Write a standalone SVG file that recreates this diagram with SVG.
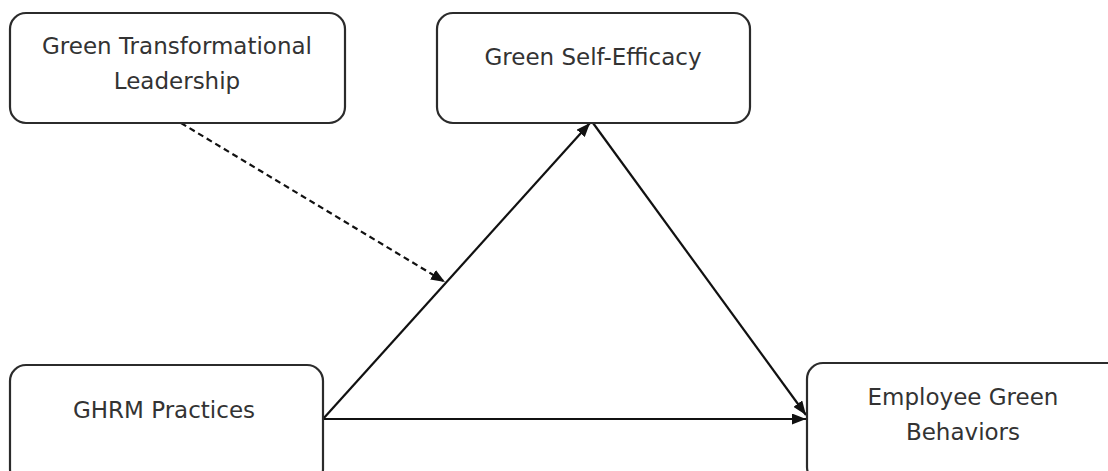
<svg xmlns="http://www.w3.org/2000/svg" width="1108" height="471" viewBox="0 0 1108 471">
<style>
.box{fill:#fff;stroke:#2b2b2b;stroke-width:2.2}
.lbl{font-family:"DejaVu Sans",sans-serif;font-size:23px;fill:#333;text-anchor:middle}
.edge{stroke:#111;stroke-width:2.2;fill:none}
.dash{stroke-dasharray:6 4}
</style>
<defs>
<marker id="arr" viewBox="0 0 14 11" refX="14" refY="5.5" markerWidth="14" markerHeight="11" markerUnits="userSpaceOnUse" orient="auto">
<path d="M0,0 L14,5.5 L0,11 Z" fill="#111"/>
</marker>
</defs>
<rect width="1108" height="471" fill="#fff"/>
<g id="connectors">
<path class="edge dash" d="M181,123 L445,282" marker-end="url(#arr)"/>
<path class="edge" d="M323,419 L590,123" marker-end="url(#arr)"/>
<path class="edge" d="M593,123 L806,415" marker-end="url(#arr)"/>
<path class="edge" d="M323,419 L806,419" marker-end="url(#arr)"/>
</g>
<g id="node-gtl">
<rect class="box" x="10" y="13" width="335" height="110" rx="16"/>
<text class="lbl" x="177" y="54">Green Transformational</text>
<text class="lbl" x="177" y="89">Leadership</text>
</g>
<g id="node-gse">
<rect class="box" x="437" y="13" width="313" height="110" rx="16"/>
<text class="lbl" x="593" y="65">Green Self-Efficacy</text>
</g>
<g id="node-ghrm">
<rect class="box" x="10" y="365" width="313" height="120" rx="16"/>
<text class="lbl" x="164" y="418">GHRM Practices</text>
</g>
<g id="node-egb">
<rect class="box" x="807" y="363" width="320" height="120" rx="16"/>
<text class="lbl" x="963" y="405">Employee Green</text>
<text class="lbl" x="963" y="440">Behaviors</text>
</g>
</svg>
